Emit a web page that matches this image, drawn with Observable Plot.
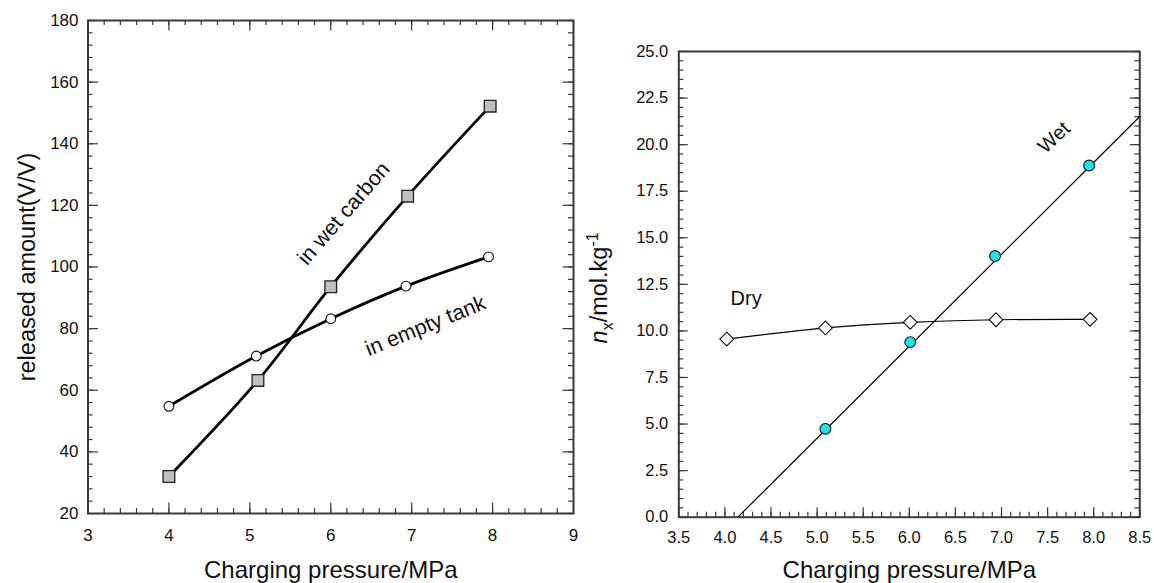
<!DOCTYPE html>
<html><head><meta charset="utf-8">
<script src="https://cdn.jsdelivr.net/npm/d3@7"></script>
<script src="https://cdn.jsdelivr.net/npm/@observablehq/plot@0.6"></script>
<style>
body{margin:0;background:#fff}
#wrap{display:flex;width:1154px;height:583px;overflow:hidden}
#wrap svg{display:block}
</style>
</head><body><div id="wrap"></div>
<script>
// ---- Left panel data ----
const wetCarbonX = [4.0, 5.1, 6.0, 6.95, 7.97];
const wetCarbonY = [32.0, 63.2, 93.6, 123.0, 152.2];
const emptyTankX = [4.0, 5.08, 6.0, 6.93, 7.95];
const emptyTankY = [54.8, 71.1, 83.2, 93.8, 103.3];
const leftXTicks = [3, 4, 5, 6, 7, 8, 9];
const leftYTicks = [20, 40, 60, 80, 100, 120, 140, 160, 180];
const leftLabelText = ["in wet carbon", "in empty tank"];
const leftLabelX = [6.16, 7.17];
const leftLabelY = [117.4, 80.9];
const leftLabelAngle = [-49, -22];

// ---- Right panel data ----
const dryX = [4.02, 5.09, 6.01, 6.94, 7.96];
const dryY = [9.56, 10.16, 10.46, 10.60, 10.62];
const wetX = [5.09, 6.01, 6.93, 7.95];
const wetY = [4.74, 9.40, 14.02, 18.88];
const wetFitX = [4.14, 8.5];
const wetFitY = [0, 21.51];
const rightXTicks = [3.5, 4.0, 4.5, 5.0, 5.5, 6.0, 6.5, 7.0, 7.5, 8.0, 8.5];
const rightYTicks = [0, 2.5, 5, 7.5, 10, 12.5, 15, 17.5, 20, 22.5, 25];
const rightLabelText = ["Wet", "Dry"];
const rightLabelX = [7.57, 4.23];
const rightLabelY = [20.38, 11.76];
const rightLabelAngle = [-43, 0];

const FONT = "'Liberation Sans', Arial, Helvetica, sans-serif";
const TICK = "#3a3a3a";
const rows = (X, Y) => X.map((x, i) => ({x, y: Y[i]}));
const minor = (a, b, s) => d3.range(Math.round((b - a) / s) + 1).map(i => +(a + i * s).toFixed(4));

function tickSet({xs, ys, plotW, plotH, len, sides, sw = 1.2}) {
  const m = [];
  if (sides.includes("b")) m.push(Plot.tickX(xs, {x: d => d, insetTop: plotH - len, stroke: TICK, strokeWidth: sw}));
  if (sides.includes("t")) m.push(Plot.tickX(xs, {x: d => d, insetBottom: plotH - len, stroke: TICK, strokeWidth: sw}));
  if (sides.includes("l")) m.push(Plot.tickY(ys, {y: d => d, insetRight: plotW - len, stroke: TICK, strokeWidth: sw}));
  if (sides.includes("r")) m.push(Plot.tickY(ys, {y: d => d, insetLeft: plotW - len, stroke: TICK, strokeWidth: sw}));
  return m;
}

// ---- Left plot ----
const L = {w: 580, h: 583, ml: 87.5, mr: 7, mt: 20, mb: 70};
const LpW = L.w - L.ml - L.mr, LpH = L.h - L.mt - L.mb;
const left = Plot.plot({
  width: L.w, height: L.h,
  marginLeft: L.ml, marginRight: L.mr, marginTop: L.mt, marginBottom: L.mb,
  style: {fontFamily: FONT, background: "white", color: "#111"},
  x: {domain: [3, 9]},
  y: {domain: [20, 180]},
  marks: [
    ...tickSet({xs: minor(3, 9, 0.2), ys: minor(20, 180, 4), plotW: LpW, plotH: LpH, len: 5, sides: "btlr"}),
    ...tickSet({xs: leftXTicks, ys: leftYTicks, plotW: LpW, plotH: LpH, len: 10.5, sides: "btlr"}),
    Plot.frame({stroke: "#3a3a3a", strokeWidth: 2}),
    Plot.axisX({ticks: leftXTicks, tickSize: 0, tickPadding: 15, fontSize: 17, label: null, tickFormat: d => String(d)}),
    Plot.axisY({ticks: leftYTicks, tickSize: 0, tickPadding: 9.5, fontSize: 17, label: null, tickFormat: d => String(d)}),
    Plot.line(rows(emptyTankX, emptyTankY), {x: "x", y: "y", stroke: "#000", strokeWidth: 2.8, curve: "catmull-rom"}),
    Plot.line(rows(wetCarbonX, wetCarbonY), {x: "x", y: "y", stroke: "#000", strokeWidth: 2.8, curve: "catmull-rom"}),
    Plot.dot(rows(emptyTankX, emptyTankY), {x: "x", y: "y", r: 4.9, fill: "white", stroke: "#111", strokeWidth: 1.1}),
    Plot.dot(rows(wetCarbonX, wetCarbonY), {x: "x", y: "y", r: 6.6, symbol: "square", fill: "#c0c0c0", stroke: "#222", strokeWidth: 1.3}),
    Plot.text(leftLabelText.map((t, i) => ({t, x: leftLabelX[i], y: leftLabelY[i], a: leftLabelAngle[i]})),
      {x: "x", y: "y", text: "t", rotate: d => d.a, fontSize: 21.5, fill: "#111"}),
    Plot.text(["Charging pressure/MPa"], {text: d => d, frameAnchor: "bottom", textAnchor: "middle", lineAnchor: "middle", dy: 57, fontSize: 24, fill: "#111"}),
    Plot.text(["released amount(V/V)"], {text: d => d, frameAnchor: "left", textAnchor: "middle", lineAnchor: "middle", dx: -61, rotate: -90, fontSize: 23.5, fill: "#111"})
  ]
});

// ---- Right plot ----
const R = {w: 574, h: 583, ml: 98.3, mr: 14.7, mt: 51, mb: 66.3};
const RpW = R.w - R.ml - R.mr, RpH = R.h - R.mt - R.mb;
const right = Plot.plot({
  width: R.w, height: R.h,
  marginLeft: R.ml, marginRight: R.mr, marginTop: R.mt, marginBottom: R.mb,
  style: {fontFamily: FONT, background: "white", color: "#111"},
  x: {domain: [3.5, 8.5]},
  y: {domain: [0, 25]},
  marks: [
    ...tickSet({xs: minor(3.5, 8.5, 0.1), ys: minor(0, 25, 0.5), plotW: RpW, plotH: RpH, len: 5, sides: "blr"}),
    ...tickSet({xs: rightXTicks, ys: rightYTicks, plotW: RpW, plotH: RpH, len: 9.5, sides: "blr"}),
    Plot.frame({stroke: "#3a3a3a", strokeWidth: 2}),
    Plot.axisX({ticks: rightXTicks, tickSize: 0, tickPadding: 14.5, fontSize: 16.5, label: null, tickFormat: d3.format(".1f")}),
    Plot.axisY({ticks: rightYTicks, tickSize: 0, tickPadding: 10.5, fontSize: 16.5, label: null, tickFormat: d3.format(".1f")}),
    Plot.line(rows(wetFitX, wetFitY), {x: "x", y: "y", stroke: "#000", strokeWidth: 1.2}),
    Plot.line(rows(dryX, dryY), {x: "x", y: "y", stroke: "#000", strokeWidth: 1.2, curve: "natural"}),
    Plot.dot(rows(dryX, dryY), {x: "x", y: "y", r: 6.2, symbol: "diamond2", fill: "white", stroke: "#111", strokeWidth: 1.1}),
    Plot.dot(rows(wetX, wetY), {x: "x", y: "y", r: 5.4, fill: "#1fe3ea", stroke: "#111", strokeWidth: 1.1}),
    Plot.text(rightLabelText.map((t, i) => ({t, x: rightLabelX[i], y: rightLabelY[i], a: rightLabelAngle[i]})),
      {x: "x", y: "y", text: "t", rotate: d => d.a, fontSize: 20, fill: "#111"}),
    Plot.text(["Charging pressure/MPa"], {text: d => d, frameAnchor: "bottom", textAnchor: "middle", lineAnchor: "middle", dy: 53.5, fontSize: 24, fill: "#111"})
  ]
});

// y-axis title with italic n, subscript x, superscript -1
const yt = d3.select(right).append("text")
  .attr("transform", `translate(27,${(R.mt + R.h - R.mb) / 2 + 4}) rotate(-90)`)
  .attr("text-anchor", "middle")
  .attr("font-family", FONT)
  .attr("font-size", 23.5)
  .attr("fill", "#111");
yt.append("tspan").attr("font-style", "italic").text("n");
yt.append("tspan").attr("font-size", 16).attr("dy", 6).text("x");
yt.append("tspan").attr("dy", -6).text("/mol.kg");
yt.append("tspan").attr("font-size", 16).attr("dy", -9).text("-1");

const wrap = document.getElementById("wrap");
wrap.appendChild(left);
wrap.appendChild(right);
</script>
</body></html>
